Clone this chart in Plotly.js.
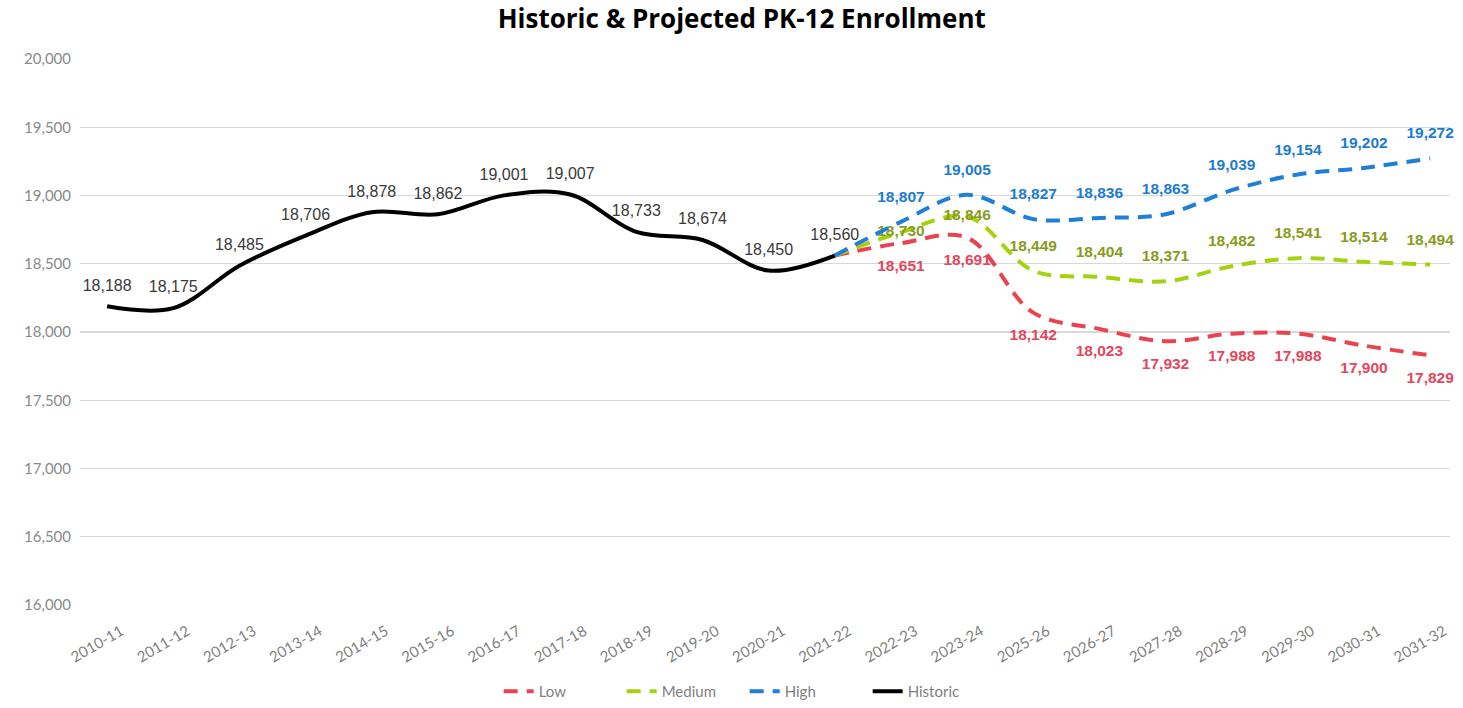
<!DOCTYPE html>
<html>
<head>
<meta charset="utf-8">
<script src="https://cdn.plot.ly/plotly-3.0.1.min.js"></script>
<style>html,body{margin:0;padding:0;background:#fff;}#chart{width:1463px;height:708px;}</style>
</head>
<body>
<div id="chart"></div>
<script>
const years = ["2010-11","2011-12","2012-13","2013-14","2014-15","2015-16","2016-17","2017-18","2018-19","2019-20","2020-21","2021-22","2022-23","2023-24","2025-26","2026-27","2027-28","2028-29","2029-30","2030-31","2031-32"];
const historicYears = years.slice(0, 12);
const historic = [18188, 18175, 18485, 18706, 18878, 18862, 19001, 19007, 18733, 18674, 18450, 18560];
const projYears = years.slice(11);
const low = [18560, 18651, 18691, 18142, 18023, 17932, 17988, 17988, 17900, 17829];
const medium = [18560, 18730, 18846, 18449, 18404, 18371, 18482, 18541, 18514, 18494];
const high = [18560, 18807, 19005, 18827, 18836, 18863, 19039, 19154, 19202, 19272];
const yTicks = [16000, 16500, 17000, 17500, 18000, 18500, 19000, 19500, 20000];

const fmt = v => v.toLocaleString('en-US');
const projLabels = arr => arr.map((v, i) => i === 0 ? '' : fmt(v));
const dashPattern = '14px,9px';
const ghost = {size: 24, opacity: 0, color: 'rgba(0,0,0,0)'};
const ghostSmall = {size: 17, opacity: 0, color: 'rgba(0,0,0,0)'};
const boldFont = 'Liberation Sans, Arial, sans-serif';

const mediumPos = medium.map((v, i) => (i === 1 || i === 2) ? 'middle center' : 'top center');

const traces = [
  {
    x: projYears, y: low, name: 'Low', type: 'scatter', mode: 'lines+markers+text',
    line: {color: '#e8434f', width: 4, dash: dashPattern, shape: 'spline', smoothing: 1},
    marker: ghost,
    text: projLabels(low), textposition: 'bottom center',
    textfont: {family: boldFont, size: 15.5, color: '#e2475c', weight: 'bold'},
    cliponaxis: false
  },
  {
    x: projYears, y: medium, name: 'Medium', type: 'scatter', mode: 'lines+markers+text',
    line: {color: '#a6d10f', width: 4, dash: dashPattern, shape: 'spline', smoothing: 1},
    marker: ghost,
    text: projLabels(medium), textposition: mediumPos,
    textfont: {family: boldFont, size: 15.5, color: '#8a9a1b', weight: 'bold'},
    cliponaxis: false
  },
  {
    x: projYears, y: high, name: 'High', type: 'scatter', mode: 'lines+markers+text',
    line: {color: '#1f7fd6', width: 4, dash: dashPattern, shape: 'spline', smoothing: 1},
    marker: ghost,
    text: projLabels(high), textposition: 'top center',
    textfont: {family: boldFont, size: 15.5, color: '#1c7ccf', weight: 'bold'},
    cliponaxis: false
  },
  {
    x: historicYears, y: historic, name: 'Historic', type: 'scatter', mode: 'lines+markers+text',
    line: {color: '#000000', width: 4, shape: 'spline', smoothing: 1},
    marker: ghostSmall,
    text: historic.map(fmt), textposition: 'top center',
    textfont: {family: 'Liberation Sans, Arial, sans-serif', size: 16, color: '#3a3a3a'},
    cliponaxis: false
  }
];

const layout = {
  width: 1463, height: 708,
  paper_bgcolor: '#ffffff', plot_bgcolor: '#ffffff',
  margin: {l: 80, r: 13, t: 59, b: 103},
  title: {
    text: 'Historic & Projected PK-12 Enrollment',
    xref: 'container', x: 0.507, xanchor: 'center', yref: 'container', y: 0.974, yanchor: 'middle',
    font: {family: 'Open Sans, Lato, sans-serif', size: 26, color: '#000000', weight: 'bold'}
  },
  xaxis: {
    type: 'category', categoryorder: 'array', categoryarray: years,
    range: [-0.41, 20.3], automargin: false,
    showgrid: false, zeroline: false, showline: false,
    tickangle: -30, ticks: '', ticklabelstandoff: 14, ticklabelshift: 14,
    tickfont: {family: 'Lato, Open Sans, sans-serif', size: 15, color: '#7f7f7f'}
  },
  yaxis: {
    range: [16000, 20000], tickvals: yTicks, ticktext: yTicks.map(fmt), automargin: false,
    showgrid: true, gridcolor: '#d9d9d9', gridwidth: 1.3,
    zeroline: false, showline: false, ticks: '',
    ticklabelstandoff: 8,
    tickfont: {family: 'Lato, Open Sans, sans-serif', size: 15, color: '#8a8a8a'}
  },
  showlegend: true,
  legend: {
    orientation: 'h', xref: 'container', x: 0.509, xanchor: 'center',
    yref: 'container', y: 0, yanchor: 'bottom',
    font: {family: 'Lato, Open Sans, sans-serif', size: 15, color: '#7f7f7f'},
    traceorder: 'normal', entrywidth: 78, entrywidthmode: 'pixels'
  }
};

Plotly.newPlot('chart', traces, layout, {displayModeBar: false, staticPlot: true});
</script>
</body>
</html>
